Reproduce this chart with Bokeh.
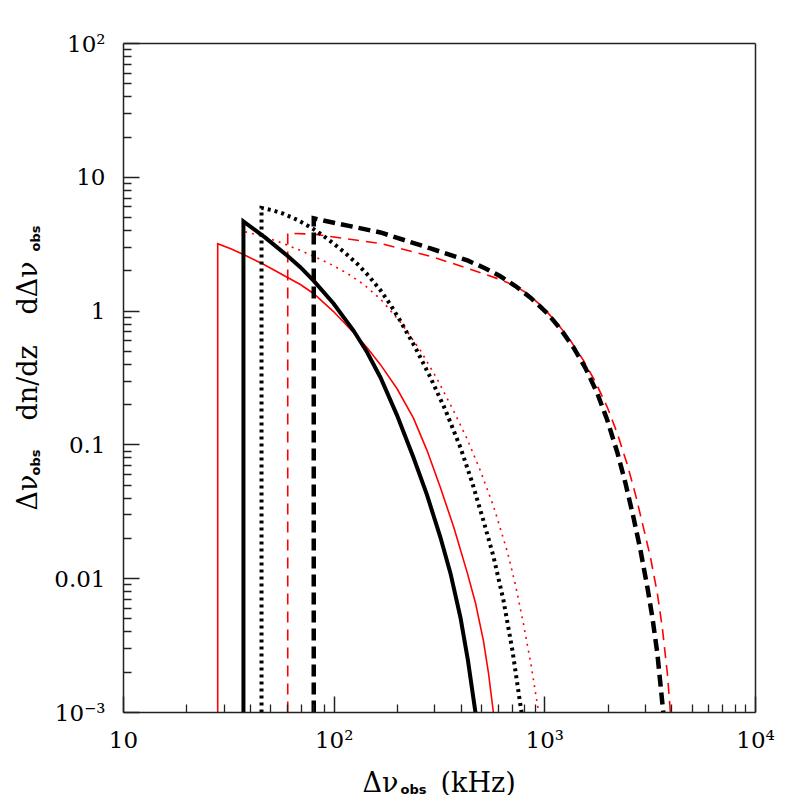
import math
from bokeh.plotting import figure
from bokeh.models import FixedTicker, Label, LogAxis, Range1d
from bokeh.embed import file_html
from bokeh.resources import INLINE

# ---------------- data ----------------
black_solid_x = [37.1, 37.1, 47.1, 59.8, 69.1, 79.8, 99.3, 123.5, 143.1, 165.9, 198.6, 237.9, 275.8, 319.6, 356.4, 397.6, 431.5, 468.5]
black_solid_y = [0.001, 4.68, 3.54, 2.60, 2.13, 1.69, 1.14, 0.716, 0.495, 0.319, 0.167, 0.0805, 0.0423, 0.0203, 0.0110, 0.00513, 0.00245, 0.001]

red_solid_x = [28.0, 28.0, 32.3, 37.1, 47.1, 59.8, 69.1, 79.8, 99.3, 123.5, 143.1, 165.9, 198.6, 237.9, 275.8, 319.6, 370.3, 429.2, 468.6, 511, 539.8, 570]
red_solid_y = [0.001, 3.19, 2.92, 2.65, 2.20, 1.79, 1.58, 1.354, 0.992, 0.692, 0.535, 0.398, 0.264, 0.1585, 0.0911, 0.0479, 0.0240, 0.01096, 0.00659, 0.00345, 0.00199, 0.001]

black_dotted_x = [45.2, 45.2, 51.05, 57.7, 66.7, 77.2, 87.7, 99.5, 113.1, 128.5, 146.0, 165.9, 185.0, 206.4, 243.1, 286.4, 337.5, 397.6, 450.8, 511, 570.3, 636, 702, 775]
black_dotted_y = [0.001, 5.91, 5.67, 5.33, 4.81, 4.24, 3.71, 3.19, 2.71, 2.26, 1.83, 1.43, 1.114, 0.841, 0.532, 0.319, 0.182, 0.0955, 0.0531, 0.0272, 0.01466, 0.00692, 0.0029, 0.001]

red_dotted_x = [37.1, 37.1, 42.3, 48.1, 55.6, 66.6, 79.8, 96.0, 115.6, 138.5, 165.9, 206.4, 256.8, 307.4, 368, 426.6, 494, 573.2, 664.5, 725.4, 791, 860.5, 935]
red_dotted_y = [0.001, 3.95, 3.75, 3.53, 3.26, 2.91, 2.57, 2.245, 1.91, 1.576, 1.23, 0.827, 0.508, 0.313, 0.181, 0.1117, 0.0644, 0.0341, 0.01585, 0.00898, 0.00463, 0.00226, 0.001]

red_dashed_x = [60.2, 60.2, 79.8, 165.9, 286.4, 429.2, 615, 712.9, 826, 974, 1148, 1323, 1525, 1738, 1982, 2211, 2466, 2692, 2938, 3170, 3421, 3614, 3817, 3945]
red_dashed_y = [0.001, 3.82, 3.76, 3.20, 2.57, 2.09, 1.72, 1.556, 1.354, 1.077, 0.808, 0.6035, 0.428, 0.296, 0.1905, 0.1211, 0.0708, 0.0427, 0.0241, 0.01452, 0.00775, 0.00426, 0.00195, 0.001]

black_dashed_x = [80.0, 80.0, 88.9, 165.9, 286.4, 429.2, 513.9, 615, 725.2, 855, 1029, 1186, 1367, 1559, 1777, 1982, 2212, 2413, 2634, 2843, 3069, 3240, 3421, 3650]
black_dashed_y = [0.001, 4.94, 4.75, 3.87, 2.94, 2.39, 2.11, 1.82, 1.54, 1.26, 0.96, 0.736, 0.535, 0.3755, 0.242, 0.152, 0.0871, 0.0519, 0.0288, 0.01638, 0.00859, 0.00513, 0.00276, 0.001]

x_major = [10, 100, 1000, 10000]
x_labels = ["10", "10\u00b2", "10\u00b3", "10\u2074"]
y_major = [0.001, 0.01, 0.1, 1, 10, 100]
y_labels = ["10\u207b\u00b3", "0.01", "0.1", "1", "10", "10\u00b2"]
x_minor = [k * 10.0 ** d for d in range(1, 4) for k in range(2, 10)]
y_minor = [k * 10.0 ** d for d in range(-3, 2) for k in range(2, 10)]

XMIN, XMAX = 10.0, 1e4
YMIN, YMAX = 1e-3, 1e2

# ---------------- layout: frame covers the whole canvas, box drawn by fixed axes ----------------
W = H = 795
BOX_L, BOX_R, BOX_T, BOX_B = 123, 755, 43, 712   # pixel edges of the visible box
ppd_x = (BOX_R - BOX_L) / (math.log10(XMAX) - math.log10(XMIN))
lx0 = math.log10(XMIN) - BOX_L / ppd_x
lx1 = lx0 + W / ppd_x
ppd_y = (BOX_B - BOX_T) / (math.log10(YMAX) - math.log10(YMIN))
ly0 = math.log10(YMIN) - (H - BOX_B) / ppd_y
ly1 = ly0 + H / ppd_y

p = figure(x_axis_type="log", y_axis_type="log",
           x_range=Range1d(10 ** lx0, 10 ** lx1), y_range=Range1d(10 ** ly0, 10 ** ly1),
           frame_width=W, frame_height=H, min_border=0,
           output_backend="svg", toolbar_location=None,
           background_fill_color="white", border_fill_color="white")
p.title.visible = False
p.xgrid.visible = False
p.ygrid.visible = False
p.outline_line_color = None

AX_COLOR = "#222222"
xax = p.xaxis[0]
yax = p.yaxis[0]
xax.fixed_location = YMIN
xax.bounds = (XMIN, XMAX)
yax.fixed_location = XMIN
yax.bounds = (YMIN, YMAX)

for ax, maj, mino, labs, standoff in ((xax, x_major, x_minor, x_labels, 14),
                                      (yax, y_major, y_minor, y_labels, 18)):
    ax.ticker = FixedTicker(ticks=maj, minor_ticks=mino)
    ax.major_label_overrides = {float(v): s for v, s in zip(maj, labs)}
    ax.axis_line_color = AX_COLOR
    ax.axis_line_width = 1.5
    ax.major_tick_in = 16
    ax.major_tick_out = 0
    ax.minor_tick_in = 8
    ax.minor_tick_out = 0
    ax.major_tick_line_color = AX_COLOR
    ax.major_tick_line_width = 1.5
    ax.minor_tick_line_color = AX_COLOR
    ax.minor_tick_line_width = 1.3
    ax.major_label_text_font = "DejaVu Serif"
    ax.major_label_text_font_size = "23px"
    ax.major_label_text_color = "black"
    ax.major_label_standoff = standoff

top_ax = LogAxis(fixed_location=YMAX, bounds=(XMIN, XMAX), ticker=FixedTicker(ticks=[]),
                 axis_line_color=AX_COLOR, axis_line_width=1.5)
right_ax = LogAxis(fixed_location=XMAX, bounds=(YMIN, YMAX), ticker=FixedTicker(ticks=[]),
                   axis_line_color=AX_COLOR, axis_line_width=1.5)
p.add_layout(top_ax, "above")
p.add_layout(right_ax, "right")

# ---------------- curves ----------------
p.line(red_solid_x, red_solid_y, line_color="red", line_width=1.6, line_join="miter")
p.line(red_dotted_x, red_dotted_y, line_color="red", line_width=1.6, line_dash="2 5", line_join="miter")
p.line(red_dashed_x, red_dashed_y, line_color="red", line_width=1.6, line_dash="11 7", line_join="miter")
p.line(black_solid_x, black_solid_y, line_color="black", line_width=4, line_join="miter")
p.line(black_dotted_x, black_dotted_y, line_color="black", line_width=4, line_dash="3 4", line_join="miter")
p.line(black_dashed_x, black_dashed_y, line_color="black", line_width=4.5, line_dash="12 6", line_join="miter")

# ---------------- axis titles (pieces, for the subscripts) ----------------
SERIF = "DejaVu Serif"
SANS = "DejaVu Sans"

def add_label(text, x, y, font, size, angle=0.0, bold=False):
    p.add_layout(Label(x=x, y=y, x_units="canvas", y_units="canvas",
                       text=text, angle=angle, text_font=font, text_font_size=size,
                       text_font_style="bold" if bold else "normal",
                       text_color="black", text_align="left", text_baseline="alphabetic"))

# x title
add_label("\u0394\u03bd", 362, 782, SERIF, "27px")
add_label("obs", 400, 789, SANS, "13px", bold=True)
add_label("(kHz)", 440, 782, SERIF, "27px")

# y title (rotated, reading upward)
rot = math.pi / 2
add_label("\u0394\u03bd", 27, 510, SERIF, "27px", angle=rot)
add_label("obs", 35, 475, SANS, "13px", angle=rot, bold=True)
add_label("dn/dz", 27, 420, SERIF, "27px", angle=rot)
add_label("d\u0394\u03bd", 27, 314, SERIF, "27px", angle=rot)
add_label("obs", 35, 251, SANS, "13px", angle=rot, bold=True)

open("out.html", "w").write(file_html(p, INLINE))
